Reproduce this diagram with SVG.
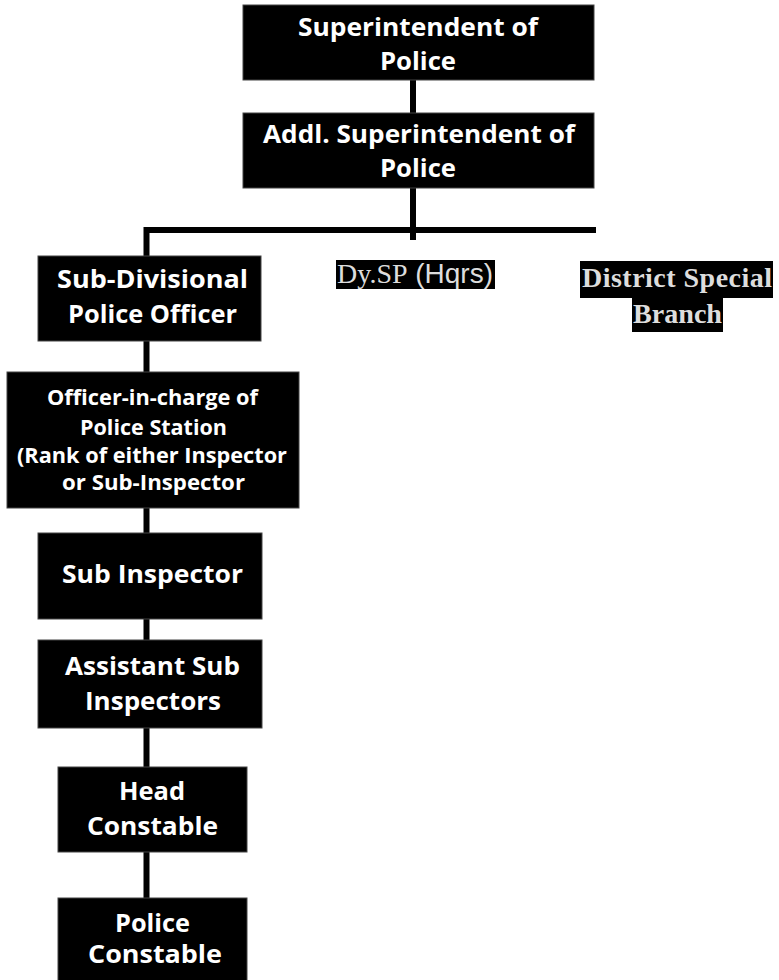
<svg xmlns="http://www.w3.org/2000/svg" width="779" height="980" viewBox="0 0 779 980">
<style>
.box{fill:#000;stroke:#444;stroke-width:1}
.t{font-family:"Open Sans","Noto Sans","Liberation Sans",sans-serif;font-weight:700;fill:#fff;text-anchor:start}
.big{font-size:25px}
.sm{font-size:21px}
.con{stroke:#000;stroke-width:6;fill:none}
.lbl{fill:#000}
.serif{font-family:"Liberation Serif","Times New Roman",serif;fill:#ddd}
.sans{font-family:"Liberation Sans",Arial,sans-serif;fill:#ddd}
</style>
<rect width="779" height="980" fill="#fff"/>
<g id="connectors">
<line class="con" x1="413" y1="80" x2="413" y2="113"/>
<line class="con" x1="413" y1="188" x2="413" y2="240"/>
<path class="con" d="M596 230 H146.5 V898"/>
</g>
<g id="sp">
<rect class="box" x="243" y="5" width="351" height="75"/>
<text class="t big" x="298" y="36" textLength="240" lengthAdjust="spacingAndGlyphs">Superintendent of</text>
<text class="t big" x="380" y="70" textLength="76" lengthAdjust="spacingAndGlyphs">Police</text>
</g>
<g id="asp">
<rect class="box" x="243" y="113" width="351" height="75"/>
<text class="t big" x="263" y="143" textLength="312" lengthAdjust="spacingAndGlyphs">Addl. Superintendent of</text>
<text class="t big" x="380" y="177" textLength="76" lengthAdjust="spacingAndGlyphs">Police</text>
</g>
<g id="dysp">
<rect class="lbl" x="336" y="260" width="159" height="29"/>
<text x="337" y="283" font-size="27" textLength="156" lengthAdjust="spacingAndGlyphs"><tspan class="serif">Dy.SP</tspan><tspan class="sans"> (Hqrs)</tspan></text>
</g>
<g id="dsb">
<rect class="lbl" x="580" y="261" width="193" height="37"/>
<rect class="lbl" x="632" y="298" width="91" height="34"/>
<text class="serif" x="582" y="287" font-size="28" font-weight="700" textLength="190" lengthAdjust="spacing">District Special</text>
<text class="serif" x="633" y="323" font-size="28" font-weight="700" textLength="89" lengthAdjust="spacingAndGlyphs">Branch</text>
</g>
<g id="sdpo">
<rect class="box" x="38" y="256" width="223" height="85"/>
<text class="t big" x="57" y="288" textLength="191" lengthAdjust="spacingAndGlyphs">Sub-Divisional</text>
<text class="t big" x="68" y="323" textLength="169" lengthAdjust="spacingAndGlyphs">Police Officer</text>
</g>
<g id="oic">
<rect class="box" x="7" y="372" width="292" height="136"/>
<text class="t sm" x="47" y="405" textLength="211" lengthAdjust="spacingAndGlyphs">Officer-in-charge of</text>
<text class="t sm" x="80" y="435" textLength="147" lengthAdjust="spacingAndGlyphs">Police Station</text>
<text class="t sm" x="17" y="463" textLength="270" lengthAdjust="spacingAndGlyphs">(Rank of either Inspector</text>
<text class="t sm" x="62" y="490" textLength="183" lengthAdjust="spacingAndGlyphs">or Sub-Inspector</text>
</g>
<g id="si">
<rect class="box" x="38" y="533" width="224" height="86"/>
<text class="t big" x="62" y="583" textLength="181" lengthAdjust="spacingAndGlyphs">Sub Inspector</text>
</g>
<g id="asi">
<rect class="box" x="38" y="640" width="224" height="88"/>
<text class="t big" x="65" y="675" textLength="175" lengthAdjust="spacingAndGlyphs">Assistant Sub</text>
<text class="t big" x="85" y="710" textLength="136" lengthAdjust="spacingAndGlyphs">Inspectors</text>
</g>
<g id="hc">
<rect class="box" x="58" y="767" width="189" height="85"/>
<text class="t big" x="119" y="800" textLength="66" lengthAdjust="spacingAndGlyphs">Head</text>
<text class="t big" x="87" y="835" textLength="131" lengthAdjust="spacingAndGlyphs">Constable</text>
</g>
<g id="pc">
<rect class="box" x="58" y="898" width="189" height="90"/>
<text class="t big" x="115" y="932" textLength="75" lengthAdjust="spacingAndGlyphs">Police</text>
<text class="t big" x="88" y="963" textLength="134" lengthAdjust="spacingAndGlyphs">Constable</text>
</g>
</svg>
